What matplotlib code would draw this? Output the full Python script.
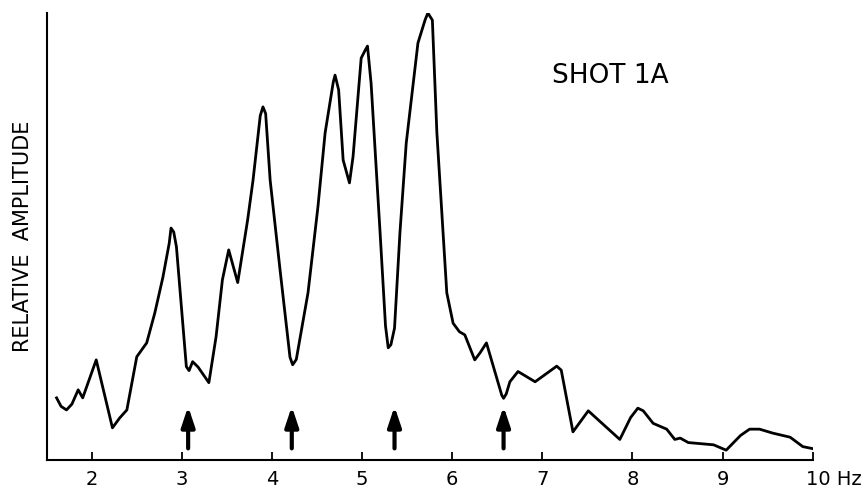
import matplotlib
matplotlib.use('Agg')
import matplotlib.pyplot as plt
import matplotlib.transforms as mtransforms

# Spectrum (frequency in Hz, relative amplitude 0-100)
freq = [1.61, 1.66, 1.72, 1.78, 1.85, 1.90, 2.05, 2.23, 2.31, 2.39,
        2.50, 2.61, 2.70, 2.79, 2.86, 2.88, 2.91, 2.94, 3.05, 3.08,
        3.12, 3.18, 3.30, 3.38, 3.45, 3.52, 3.62, 3.73, 3.79, 3.87,
        3.90, 3.93, 3.98, 4.09, 4.20, 4.23, 4.27, 4.40, 4.51, 4.59,
        4.68, 4.70, 4.74, 4.79, 4.86, 4.90, 4.99, 5.03, 5.06, 5.10,
        5.20, 5.26, 5.29, 5.32, 5.36, 5.42, 5.49, 5.62, 5.70, 5.73,
        5.78, 5.83, 5.94, 6.01, 6.08, 6.14, 6.25, 6.31, 6.38, 6.55,
        6.57, 6.60, 6.64, 6.73, 6.92, 7.16, 7.21, 7.34, 7.51, 7.86,
        7.98, 8.06, 8.12, 8.23, 8.38, 8.47, 8.53, 8.62, 8.90, 9.04,
        9.20, 9.30, 9.41, 9.56, 9.75, 9.89, 10.01]
amp = [13.9, 12.0, 11.2, 12.5, 15.7, 13.9, 22.4, 7.2, 9.4, 11.2,
       23.1, 26.2, 32.9, 40.9, 48.5, 51.9, 51.0, 47.7, 20.9, 20.0,
       22.0, 20.8, 17.3, 27.6, 40.3, 47.0, 39.7, 53.7, 62.6, 77.0,
       79.0, 77.5, 62.6, 42.5, 23.0, 21.3, 22.5, 37.4, 56.6, 73.2,
       84.5, 86.1, 82.8, 67.1, 62.0, 67.9, 89.9, 91.5, 92.6, 84.3,
       50.8, 30.0, 25.1, 25.8, 29.5, 50.8, 70.9, 93.3, 98.5, 100.0,
       98.4, 73.2, 37.4, 30.6, 28.7, 28.0, 22.4, 24.0, 26.2, 14.5,
       13.8, 14.8, 17.5, 19.8, 17.5, 21.0, 20.1, 6.3, 11.0, 4.6,
       9.5, 11.6, 11.0, 8.2, 6.9, 4.6, 4.9, 3.9, 3.4, 2.2,
       5.5, 6.9, 6.9, 6.0, 5.1, 3.0, 2.5]

# Marked frequencies (arrows)
arrow_freqs = [3.07, 4.22, 5.36, 6.57]

tick_vals = [2, 3, 4, 5, 6, 7, 8, 9, 10]
tick_labels = ['2', '3', '4', '5', '6', '7', '8', '9', '10 Hz']

plt.rcParams['font.family'] = ['DejaVu Sans']

fig = plt.figure(figsize=(8.64, 4.95), dpi=100)
ax = fig.add_axes([0.054, 0.0707, 0.8866, 0.903])

ax.plot(freq, amp, color='black', lw=2.0, solid_joinstyle='round')

for f in arrow_freqs:
    ax.annotate('', xy=(f, 12.0), xytext=(f, 2.6),
                arrowprops=dict(arrowstyle='-|>,head_length=0.6,head_width=0.2',
                                lw=3.0, color='black', shrinkA=0, shrinkB=0,
                                mutation_scale=20))

ax.set_xlim(1.5, 10)
ax.set_ylim(0, 100)

for side in ['top', 'right']:
    ax.spines[side].set_visible(False)
for side in ['left', 'bottom']:
    ax.spines[side].set_linewidth(1.5)

ax.set_yticks([])
ax.set_xticks(tick_vals)
ax.set_xticklabels(tick_labels, fontsize=14)
ax.tick_params(axis='x', direction='in', length=6, width=1.3, pad=7)

# "10 Hz" starts at its tick rather than centring on it
last = ax.get_xticklabels()[-1]
last.set_ha('left')
last.set_transform(last.get_transform() +
                   mtransforms.ScaledTranslation(-5 / 72, 0, fig.dpi_scale_trans))

ax.set_ylabel('RELATIVE  AMPLITUDE', fontsize=15, labelpad=10)

ax.text(0.66, 0.86, 'SHOT 1A', transform=ax.transAxes, fontsize=19,
        ha='left', va='center')

fig.savefig('out.png', dpi=100)
